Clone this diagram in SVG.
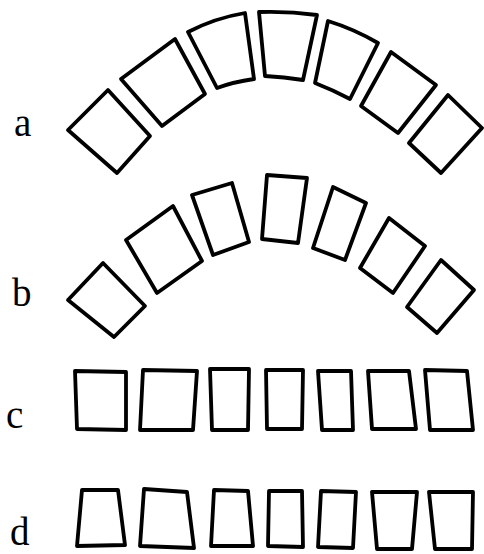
<svg xmlns="http://www.w3.org/2000/svg" width="484" height="554" viewBox="0 0 484 554">
<style>
.blk{fill:none;stroke:#000;stroke-width:3.8;stroke-linejoin:round}
.lbl{font-family:"Liberation Serif","DejaVu Serif",serif;font-size:39px;fill:#000}
</style>
<rect width="484" height="554" fill="#fff"/>
<g id="row-a">
<text class="lbl" x="14" y="136">a</text>
<polygon id="a1" class="blk" points="68,130 108,90 150,136 117,173"/>
<polygon id="a2" class="blk" points="121,79 175,39 205,94 162,126"/>
<path id="a3" class="blk" d="M188,32 Q215,18 245,13 L254,79 Q233,82 217,88 Z"/>
<path id="a4" class="blk" d="M259,12 Q288,11 317,15 L303,80 Q284,77 265,76 Z"/>
<path id="a5" class="blk" d="M328,21 Q354,29 378,43 L350,99 Q333,90 315,83 Z"/>
<polygon id="a6" class="blk" points="391,52 436,85 398,133 361,106"/>
<polygon id="a7" class="blk" points="448,95 482,128 441,173 409,143"/>
</g>
<g id="row-b">
<text class="lbl" x="12" y="306">b</text>
<polygon id="b1" class="blk" points="68,300 103,263 145,306 114,337"/>
<polygon id="b2" class="blk" points="126,240 173,206 202,261 157,293"/>
<polygon id="b3" class="blk" points="192,195 232,183 249,242 213,255"/>
<polygon id="b4" class="blk" points="267,175 307,178 298,243 262,239"/>
<polygon id="b5" class="blk" points="333,187 366,203 345,260 313,248"/>
<polygon id="b6" class="blk" points="389,218 425,246 393,293 360,268"/>
<polygon id="b7" class="blk" points="441,260 474,290 437,333 407,307"/>
</g>
<g id="row-c">
<text class="lbl" x="6" y="428">c</text>
<polygon id="c1" class="blk" points="75,371 126,372 126,430 77,429"/>
<polygon id="c2" class="blk" points="143,370 197,371 193,430 140,430"/>
<polygon id="c3" class="blk" points="210,369 249,369 248,430 212,430"/>
<polygon id="c4" class="blk" points="266,370 303,370 302,429 267,429"/>
<polygon id="c5" class="blk" points="318,371 351,371 353,430 322,430"/>
<polygon id="c6" class="blk" points="368,371 409,371 416,429 372,429"/>
<polygon id="c7" class="blk" points="425,370 467,371 473,430 430,430"/>
</g>
<g id="row-d">
<text class="lbl" x="10" y="545">d</text>
<polygon id="d1" class="blk" points="82,490 118,490 125,545 77,546"/>
<polygon id="d2" class="blk" points="144,489 187,492 194,548 140,546"/>
<polygon id="d3" class="blk" points="214,490 248,491 253,546 211,546"/>
<polygon id="d4" class="blk" points="269,491 302,491 303,547 268,546"/>
<polygon id="d5" class="blk" points="321,491 356,492 353,548 318,547"/>
<polygon id="d6" class="blk" points="372,492 417,492 412,549 377,549"/>
<polygon id="d7" class="blk" points="429,492 473,492 472,549 435,549"/>
</g>
</svg>
